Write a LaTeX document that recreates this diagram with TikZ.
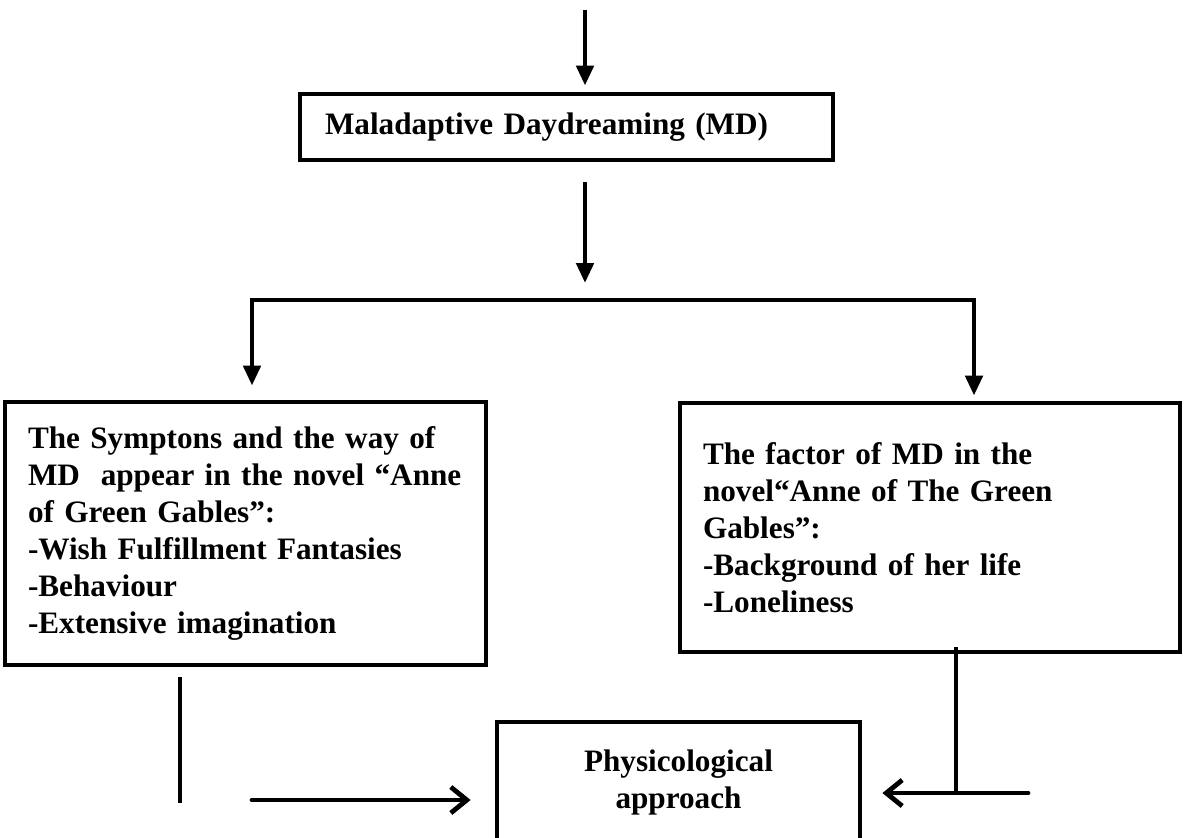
\documentclass[tikz,border=0pt]{standalone}
\usepackage{fontspec}
\setmainfont{Liberation Serif}
\usetikzlibrary{arrows.meta}

\begin{document}
\begin{tikzpicture}[x=0.5pt, y=-0.5pt, line width=2.4pt,
      every node/.append style={font=\fontsize{15.6}{18.5}\selectfont\bfseries},
      down/.style={-{Triangle[length=10pt,width=8.5pt]}},
      barb/.style={-{Straight Barb[length=8pt,width=13pt]}, line cap=round}]
    \tikzstyle{box} = [draw,rectangle,line width=2.4pt,align=left,inner xsep=11.5pt]
    \useasboundingbox (0,0) rectangle (1186,837);
    \node (md) [box, text width=241.5pt, inner xsep=12.5pt, minimum height=33pt] at (566.5,127) {Maladaptive Daydreaming (MD)};
    \node (sym) [box, text width=217.5pt, minimum height=131.5pt] at (245.5,533.5)
      {The Symptons and the way of\\ MD\ \ appear in the novel “Anne\\ of Green Gables”:\\ -Wish Fulfillment Fantasies\\ -Behaviour\\ -Extensive imagination};
    \node (fac) [box, text width=227pt, minimum height=124.5pt] at (930,527.5)
      {The factor of MD in the\\ novel“Anne of The Green\\ Gables”:\\ -Background of her life\\ -Loneliness};
    \node (phy) [box, align=center, minimum width=181.5pt, minimum height=60.5pt] at (678.5,782.5) {Physicological\\ approach};
    \coordinate (in) at (585,10);
    \coordinate (busL) at (252,300);
    \coordinate (busR) at (974,300);
    \coordinate (lfoot) at (180,803);
    \coordinate (lstart) at (252,800);
    \coordinate (rjoin) at (956,793);
    \coordinate (rend) at (1028,793);
    \draw[down, shorten >=3pt] (in) -- (in |- md.north);
    \draw[down, shorten <=10pt, shorten >=8.5pt] (md.south -| in) -- (in |- busL);
    \draw[{Triangle[length=10pt,width=8.5pt]}-{Triangle[length=10pt,width=8.5pt]}, shorten <=7pt, shorten >=2.5pt]
      (busL |- sym.north) -- (busL) -- (busR) -- (busR |- fac.north);
    \draw[shorten <=5pt] (lfoot |- sym.south) -- (lfoot);
    \draw[barb, shorten >=12pt] (lstart) -- (lstart -| phy.west);
    \draw[shorten <=-3.5pt] (rjoin |- fac.south) -- (rjoin);
    \draw[barb, shorten >=10pt] (rend) -- (rend -| phy.east);
  \end{tikzpicture}
\end{document}
